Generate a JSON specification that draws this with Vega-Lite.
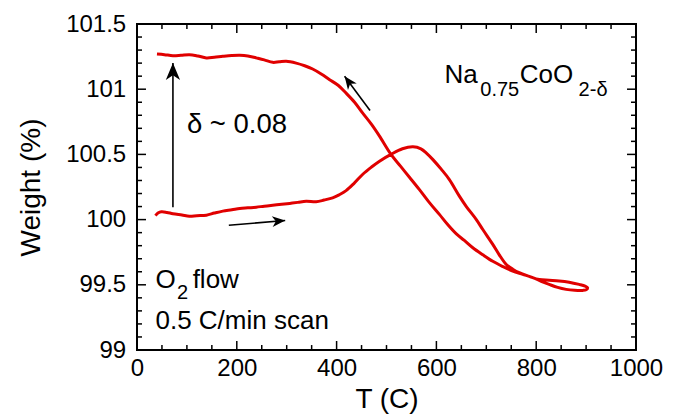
{
  "$schema": "https://vega.github.io/schema/vega-lite/v6.json",
  "width": 499,
  "height": 326,
  "autosize": "none",
  "padding": {"left": 137, "top": 24, "right": 42, "bottom": 65},
  "background": "white",
  "config": {
    "view": {"stroke": "black", "strokeWidth": 2},
    "font": "Liberation Sans",
    "axis": {
      "grid": false, "domain": false, "ticks": false,
      "labelColor": "black", "titleColor": "black", "labelFont": "Liberation Sans",
      "titleFont": "Liberation Sans", "labelFontSize": 24, "titleFontSize": 28,
      "titleFontWeight": "normal", "labelFlush": false, "labelOverlap": false, "labelBound": false
    }
  },
  "datasets": {
    "tga": [
      {"i":0,"T":37,"W":100.03},{"i":1,"T":42,"W":100.05},{"i":2,"T":49,"W":100.06},{"i":3,"T":60,"W":100.055},
      {"i":4,"T":72,"W":100.045},{"i":5,"T":90,"W":100.035},{"i":6,"T":105,"W":100.026},{"i":7,"T":120,"W":100.03},
      {"i":8,"T":139,"W":100.034},{"i":9,"T":155,"W":100.05},{"i":10,"T":172,"W":100.065},{"i":11,"T":190,"W":100.075},
      {"i":12,"T":206,"W":100.085},{"i":13,"T":222,"W":100.09},{"i":14,"T":239,"W":100.095},{"i":15,"T":255,"W":100.103},
      {"i":16,"T":272,"W":100.11},{"i":17,"T":290,"W":100.117},{"i":18,"T":306,"W":100.124},{"i":19,"T":322,"W":100.132},
      {"i":20,"T":339,"W":100.141},{"i":21,"T":359,"W":100.137},{"i":22,"T":375,"W":100.15},{"i":23,"T":392,"W":100.167},
      {"i":24,"T":405,"W":100.19},{"i":25,"T":419,"W":100.222},{"i":26,"T":435,"W":100.278},{"i":27,"T":452,"W":100.346},
      {"i":28,"T":470,"W":100.403},{"i":29,"T":486,"W":100.448},{"i":30,"T":509,"W":100.5},{"i":31,"T":532,"W":100.543},
      {"i":32,"T":553,"W":100.558},{"i":33,"T":569,"W":100.543},{"i":34,"T":580,"W":100.51},{"i":35,"T":593,"W":100.46},
      {"i":36,"T":610,"W":100.385},{"i":37,"T":626,"W":100.307},{"i":38,"T":646,"W":100.18},{"i":39,"T":660,"W":100.1},
      {"i":40,"T":680,"W":100.0},{"i":41,"T":693,"W":99.924},{"i":42,"T":713,"W":99.81},{"i":43,"T":726,"W":99.73},
      {"i":44,"T":740,"W":99.656},{"i":45,"T":753,"W":99.62},{"i":46,"T":766,"W":99.593},{"i":47,"T":786,"W":99.565},
      {"i":48,"T":806,"W":99.54},{"i":49,"T":826,"W":99.535},{"i":50,"T":846,"W":99.53},{"i":51,"T":866,"W":99.52},
      {"i":52,"T":886,"W":99.503},{"i":53,"T":898,"W":99.49},{"i":54,"T":903,"W":99.478},{"i":55,"T":900,"W":99.462},
      {"i":56,"T":893,"W":99.457},{"i":57,"T":877,"W":99.458},{"i":58,"T":860,"W":99.465},{"i":59,"T":843,"W":99.48},
      {"i":60,"T":826,"W":99.503},{"i":61,"T":810,"W":99.527},{"i":62,"T":793,"W":99.555},{"i":63,"T":773,"W":99.58},
      {"i":64,"T":753,"W":99.605},{"i":65,"T":733,"W":99.64},{"i":66,"T":713,"W":99.68},{"i":67,"T":693,"W":99.73},
      {"i":68,"T":673,"W":99.784},{"i":69,"T":656,"W":99.84},{"i":70,"T":640,"W":99.89},{"i":71,"T":623,"W":99.96},
      {"i":72,"T":606,"W":100.04},{"i":73,"T":586,"W":100.13},{"i":74,"T":566,"W":100.23},{"i":75,"T":546,"W":100.325},
      {"i":76,"T":528,"W":100.41},{"i":77,"T":509,"W":100.5},{"i":78,"T":486,"W":100.64},{"i":79,"T":470,"W":100.73},
      {"i":80,"T":452,"W":100.818},{"i":81,"T":436,"W":100.9},{"i":82,"T":419,"W":100.97},{"i":83,"T":403,"W":101.03},
      {"i":84,"T":386,"W":101.073},{"i":85,"T":370,"W":101.115},{"i":86,"T":352,"W":101.155},{"i":87,"T":336,"W":101.18},
      {"i":88,"T":319,"W":101.2},{"i":89,"T":299,"W":101.214},{"i":90,"T":285,"W":101.21},{"i":91,"T":272,"W":101.206},
      {"i":92,"T":255,"W":101.225},{"i":93,"T":239,"W":101.24},{"i":94,"T":222,"W":101.255},{"i":95,"T":206,"W":101.26},
      {"i":96,"T":190,"W":101.258},{"i":97,"T":172,"W":101.252},{"i":98,"T":155,"W":101.245},{"i":99,"T":139,"W":101.24},
      {"i":100,"T":122,"W":101.255},{"i":101,"T":105,"W":101.265},{"i":102,"T":88,"W":101.26},{"i":103,"T":72,"W":101.257},
      {"i":104,"T":55,"W":101.265},{"i":105,"T":40,"W":101.27}
    ],
    "arrows": [
      {"id":1,"T":72,"W":100.095,"T2":72,"W2":101.2},
      {"id":2,"T":184,"W":99.957,"T2":297,"W2":99.993},
      {"id":3,"T":467,"W":100.836,"T2":416,"W2":101.099}
    ],
    "big": [
      {"label":"Na","T":616,"W":101.048},
      {"label":"CoO","T":767,"W":101.048},
      {"label":"O","T":37,"W":99.478},
      {"label":"flow","T":111.5,"W":99.478},
      {"label":"0.5 C/min scan","T":37,"W":99.158}
    ],
    "delta": [
      {"label":"δ ~ 0.08","T":100,"W":100.665}
    ],
    "small": [
      {"label":"0.75","T":688,"W":100.945},
      {"label":"2-δ","T":885,"W":100.945},
      {"label":"2","T":80,"W":99.388}
    ],
    "xmaj": [{"v":0},{"v":200},{"v":400},{"v":600},{"v":800},{"v":1000}],
    "xmin": [{"v":50},{"v":100},{"v":150},{"v":250},{"v":300},{"v":350},{"v":450},{"v":500},{"v":550},{"v":650},{"v":700},{"v":750},{"v":850},{"v":900},{"v":950}],
    "ymaj": [{"v":99},{"v":99.5},{"v":100},{"v":100.5},{"v":101},{"v":101.5}],
    "ymin": [{"v":99.1},{"v":99.2},{"v":99.3},{"v":99.4},{"v":99.6},{"v":99.7},{"v":99.8},{"v":99.9},{"v":100.1},{"v":100.2},{"v":100.3},{"v":100.4},{"v":100.6},{"v":100.7},{"v":100.8},{"v":100.9},{"v":101.1},{"v":101.2},{"v":101.3},{"v":101.4}]
  },
  "layer": [
    {
      "data": {"name": "tga"},
      "mark": {"type": "line", "color": "#e00000", "strokeWidth": 3, "interpolate": "catmull-rom", "clip": true},
      "encoding": {
        "x": {"field": "T", "type": "quantitative", "scale": {"domain": [0, 1000], "nice": false, "zero": false},
          "axis": {"orient": "bottom", "values": [0,200,400,600,800,1000], "format": "d", "labelPadding": 6.5,
            "title": "T (C)", "titleX": 249.5, "titleY": 57.5, "titleBaseline": "alphabetic", "titleAlign": "center", "titleAnchor": null}},
        "y": {"field": "W", "type": "quantitative", "scale": {"domain": [99, 101.5], "nice": false, "zero": false},
          "axis": {"orient": "left", "values": [99,99.5,100,100.5,101,101.5], "format": "~f", "labelPadding": 11.3,
            "title": "Weight (%)", "titleX": -97.3, "titleY": 163, "titleAngle": -90, "titleBaseline": "alphabetic", "titleAlign": "center", "titleAnchor": null}},
        "order": {"field": "i", "type": "quantitative"}
      }
    },
    {
      "data": {"name": "arrows"},
      "mark": {"type": "rule", "color": "black", "strokeWidth": 1.6},
      "encoding": {
        "x": {"field": "T", "type": "quantitative"},
        "y": {"field": "W", "type": "quantitative"},
        "x2": {"field": "T2"},
        "y2": {"field": "W2"}
      }
    },
    {
      "data": {"name": "arrows"},
      "transform": [{"filter": "datum.id == 1"}],
      "mark": {"type": "point", "shape": "M0,0 L-1,-0.42 L-0.72,0 L-1,0.42 Z", "filled": true, "color": "black", "opacity": 1, "size": 1156, "angle": -90},
      "encoding": {
        "x": {"field": "T2", "type": "quantitative"},
        "y": {"field": "W2", "type": "quantitative"}
      }
    },
    {
      "data": {"name": "arrows"},
      "transform": [{"filter": "datum.id == 2"}],
      "mark": {"type": "point", "shape": "M0,0 L-1,-0.42 L-0.72,0 L-1,0.42 Z", "filled": true, "color": "black", "opacity": 1, "size": 676, "angle": -4.8},
      "encoding": {
        "x": {"field": "T2", "type": "quantitative"},
        "y": {"field": "W2", "type": "quantitative"}
      }
    },
    {
      "data": {"name": "arrows"},
      "transform": [{"filter": "datum.id == 3"}],
      "mark": {"type": "point", "shape": "M0,0 L-1,-0.42 L-0.72,0 L-1,0.42 Z", "filled": true, "color": "black", "opacity": 1, "size": 676, "angle": -126.8},
      "encoding": {
        "x": {"field": "T2", "type": "quantitative"},
        "y": {"field": "W2", "type": "quantitative"}
      }
    },
    {
      "data": {"name": "big"},
      "mark": {"type": "text", "align": "left", "baseline": "alphabetic", "fontSize": 26, "font": "Liberation Sans", "color": "black"},
      "encoding": {
        "x": {"field": "T", "type": "quantitative"},
        "y": {"field": "W", "type": "quantitative"},
        "text": {"field": "label"}
      }
    },
    {
      "data": {"name": "delta"},
      "mark": {"type": "text", "align": "left", "baseline": "alphabetic", "fontSize": 27.5, "font": "Liberation Sans", "color": "black"},
      "encoding": {
        "x": {"field": "T", "type": "quantitative"},
        "y": {"field": "W", "type": "quantitative"},
        "text": {"field": "label"}
      }
    },
    {
      "data": {"name": "small"},
      "mark": {"type": "text", "align": "left", "baseline": "alphabetic", "fontSize": 20, "font": "Liberation Sans", "color": "black"},
      "encoding": {
        "x": {"field": "T", "type": "quantitative"},
        "y": {"field": "W", "type": "quantitative"},
        "text": {"field": "label"}
      }
    },
    {
      "data": {"name": "xmaj"},
      "mark": {"type": "rule", "color": "black", "strokeWidth": 1.5},
      "encoding": {"x": {"field": "v", "type": "quantitative"}, "y": {"datum": 99, "type": "quantitative"}, "y2": {"datum": 99.069}}
    },
    {
      "data": {"name": "xmaj"},
      "mark": {"type": "rule", "color": "black", "strokeWidth": 1.5},
      "encoding": {"x": {"field": "v", "type": "quantitative"}, "y": {"datum": 101.5, "type": "quantitative"}, "y2": {"datum": 101.431}}
    },
    {
      "data": {"name": "xmin"},
      "mark": {"type": "rule", "color": "black", "strokeWidth": 1.5},
      "encoding": {"x": {"field": "v", "type": "quantitative"}, "y": {"datum": 99, "type": "quantitative"}, "y2": {"datum": 99.038}}
    },
    {
      "data": {"name": "xmin"},
      "mark": {"type": "rule", "color": "black", "strokeWidth": 1.5},
      "encoding": {"x": {"field": "v", "type": "quantitative"}, "y": {"datum": 101.5, "type": "quantitative"}, "y2": {"datum": 101.462}}
    },
    {
      "data": {"name": "ymaj"},
      "mark": {"type": "rule", "color": "black", "strokeWidth": 1.5},
      "encoding": {"y": {"field": "v", "type": "quantitative"}, "x": {"datum": 0, "type": "quantitative"}, "x2": {"datum": 18}}
    },
    {
      "data": {"name": "ymaj"},
      "mark": {"type": "rule", "color": "black", "strokeWidth": 1.5},
      "encoding": {"y": {"field": "v", "type": "quantitative"}, "x": {"datum": 1000, "type": "quantitative"}, "x2": {"datum": 982}}
    },
    {
      "data": {"name": "ymin"},
      "mark": {"type": "rule", "color": "black", "strokeWidth": 1.5},
      "encoding": {"y": {"field": "v", "type": "quantitative"}, "x": {"datum": 0, "type": "quantitative"}, "x2": {"datum": 10}}
    },
    {
      "data": {"name": "ymin"},
      "mark": {"type": "rule", "color": "black", "strokeWidth": 1.5},
      "encoding": {"y": {"field": "v", "type": "quantitative"}, "x": {"datum": 1000, "type": "quantitative"}, "x2": {"datum": 990}}
    }
  ]
}
